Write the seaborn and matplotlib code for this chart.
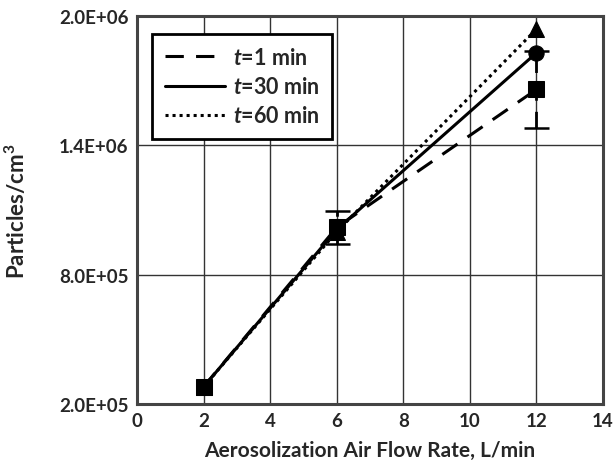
import numpy as np
import pandas as pd
import matplotlib
matplotlib.use("Agg")
import matplotlib.pyplot as plt
from matplotlib.ticker import FuncFormatter, MultipleLocator
from matplotlib.lines import Line2D
import seaborn as sns

# ── Data ──────────────────────────────────────────────────────────────────────
flow_rate = [2, 6, 12]
t1_vals = [2.8e5, 1.02e6, 1.66e6]
t1_err = [0.0, 0.075e6, 0.18e6]
t30_vals = [2.8e5, 1.01e6, 1.83e6]
t60_vals = [2.8e5, 1.00e6, 1.94e6]
labels = [r"$\it{t}$=1 min", r"$\it{t}$=30 min", r"$\it{t}$=60 min"]

sns.set_theme(style="white")
plt.rcParams.update({
    "font.family": ["Lato", "DejaVu Sans"],
    "font.weight": "bold",
    "mathtext.fontset": "custom",
    "mathtext.it": "Lato:italic:bold",
    "mathtext.rm": "Lato:bold",
    "mathtext.bf": "Lato:bold",
})

df = pd.DataFrame({
    "flow": flow_rate * 3,
    "val": t60_vals + t30_vals + t1_vals,
    "series": [labels[2]] * 3 + [labels[1]] * 3 + [labels[0]] * 3,
})

fig = plt.figure(figsize=(6.16, 4.64), dpi=100)
ax = fig.add_axes([0.2224, 0.127, 0.7566, 0.836])

styles = {
    labels[2]: dict(marker="^", ls=(0, (1, 1.3))),
    labels[1]: dict(marker="o", ls="-"),
    labels[0]: dict(marker="s", ls=(0, (6, 4))),
}
for name in [labels[2], labels[1], labels[0]]:
    sub = df[df["series"] == name]
    sns.lineplot(data=sub, x="flow", y="val", ax=ax, color="black",
                 marker=styles[name]["marker"], markersize=11,
                 markeredgecolor="black", linewidth=2.2, zorder=3)
    ax.lines[-1].set_linestyle(styles[name]["ls"])

# error bars only where they are visible (x = 6 and 12)
eb = ax.errorbar(flow_rate[1:], t1_vals[1:], yerr=t1_err[1:], fmt="none",
                 ecolor="black", elinewidth=2, capsize=9, capthick=1.8, zorder=2)
eb[2][0].set_linestyle((0, (6, 4)))

ax.set_xlim(0, 14)
ax.set_ylim(2.0e5, 2.0e6)
ax.xaxis.set_major_locator(MultipleLocator(2))
ax.set_yticks([2.0e5, 8.0e5, 1.4e6, 2.0e6])
ax.yaxis.set_major_formatter(FuncFormatter(lambda v, p: f"{v:.1E}"))
ax.grid(True, color="#333333", linewidth=1)
ax.set_axisbelow(True)
for s in ax.spines.values():
    s.set_color("#444444")
    s.set_linewidth(2.2)
ax.tick_params(axis="both", labelsize=13.5, pad=6, length=0)
for lbl in ax.get_xticklabels() + ax.get_yticklabels():
    lbl.set_fontweight("bold")

ax.set_xlabel("Aerosolization Air Flow Rate, L/min", fontsize=15,
              fontweight="bold")
ax.xaxis.set_label_coords(0.5, -0.092)
ax.set_ylabel("Particles/cm$^\\mathbf{3}$", fontsize=16, fontweight="bold")
ax.yaxis.set_label_coords(-0.232, 0.5)

# legend shows line styles only
leg_handles = [Line2D([], [], color="black", lw=2.2, ls=styles[n]["ls"]) for n in labels]
leg = ax.legend(leg_handles, labels, loc="upper left",
                bbox_to_anchor=(0.032, 0.954), fontsize=15.5, frameon=True,
                fancybox=False, edgecolor="black", framealpha=1,
                handlelength=2.8, handletextpad=0.35, borderpad=0.6,
                labelspacing=0.38, borderaxespad=0)
leg.get_frame().set_linewidth(2)

fig.savefig("out.png", dpi=100)
